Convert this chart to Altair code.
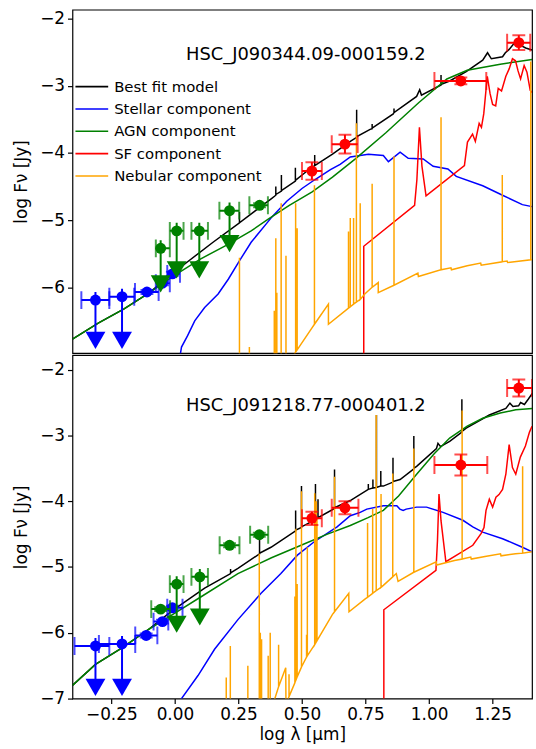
import altair as alt
import pandas as pd

# ---------------- axes ranges / ticks ----------------
X_DOMAIN = [-0.403, 1.405]
TOP_Y_DOMAIN = [-6.98, -1.87]
BOT_Y_DOMAIN = [-7.0, -1.78]
X_TICKS = [-0.25, 0.0, 0.25, 0.5, 0.75, 1.0, 1.25]
TOP_Y_TICKS = [-6, -5, -4, -3, -2]
BOT_Y_TICKS = [-7, -6, -5, -4, -3, -2]

SERIES = ["Best fit model", "Stellar component", "AGN component", "SF component", "Nebular component"]
COLORS = ["black", "blue", "green", "red", "orange"]

TOP_NAME = "HSC_J090344.09-000159.2"
BOT_NAME = "HSC_J091218.77-000401.2"
NAME_POS = [0.515, -2.55]

# ---------------- top panel model curves [x, y] ----------------
top_best = [
    [-0.403, -6.77], [-0.3, -6.53], [-0.2, -6.32], [-0.1, -6.08], [-0.03, -5.86],
    [0.05, -5.62], [0.15, -5.33], [0.254, -5.04], [0.254, -4.88], [0.254, -5.04],
    [0.38, -4.68], [0.397, -4.63], [0.397, -4.50], [0.397, -4.62],
    [0.419, -4.57], [0.419, -4.33], [0.419, -4.56], [0.474, -4.42], [0.474, -4.22], [0.474, -4.41],
    [0.52, -4.27], [0.55, -4.19], [0.55, -4.03], [0.55, -4.19], [0.62, -4.02],
    [0.69, -3.83], [0.715, -3.77], [0.715, -3.36], [0.715, -3.76], [0.768, -3.65],
    [0.776, -3.64], [0.776, -3.57], [0.776, -3.63], [0.859, -3.42], [0.862, -3.40], [0.862, -3.34], [0.862, -3.40],
    [0.951, -3.16], [0.963, -3.06], [0.97, -3.14], [1.047, -2.99], [1.047, -2.84], [1.047, -2.98],
    [1.081, -2.93], [1.146, -2.79], [1.211, -2.62], [1.23, -2.51], [1.245, -2.60],
    [1.289, -2.57], [1.30, -2.51], [1.315, -2.46], [1.341, -2.34], [1.36, -2.40],
    [1.38, -2.44], [1.405, -2.47],
]
top_stellar = [
    [0.019, -7.05], [0.026, -6.89], [0.05, -6.72], [0.078, -6.50], [0.117, -6.30],
    [0.17, -6.10], [0.21, -5.88], [0.255, -5.60], [0.30, -5.33], [0.365, -5.03],
    [0.378, -4.97], [0.44, -4.72], [0.5, -4.53], [0.55, -4.40], [0.612, -4.25],
    [0.65, -4.17], [0.69, -4.06], [0.761, -4.02], [0.82, -4.04], [0.84, -4.13],
    [0.886, -3.99], [0.918, -4.08], [0.977, -4.09], [1.016, -4.20], [1.074, -4.24],
    [1.107, -4.35], [1.211, -4.49], [1.289, -4.63], [1.367, -4.77], [1.405, -4.80],
]
top_agn = [
    [-0.403, -6.77], [-0.3, -6.53], [-0.2, -6.32], [-0.1, -6.08], [0.0, -5.82],
    [0.1, -5.58], [0.2, -5.38], [0.3, -5.16], [0.37, -4.98], [0.45, -4.78],
    [0.54, -4.58], [0.62, -4.36], [0.71, -4.09], [0.83, -3.70], [0.96, -3.25],
    [1.07, -2.90], [1.15, -2.77], [1.28, -2.68], [1.405, -2.61],
]
top_sf = [
    [0.743, -7.3], [0.743, -5.39], [0.943, -4.78], [0.952, -4.40], [0.962, -3.62],
    [0.972, -4.20], [0.988, -4.64], [1.139, -4.19], [1.151, -3.84], [1.171, -3.72],
    [1.182, -3.83], [1.197, -3.56], [1.206, -3.62], [1.215, -3.42], [1.229, -2.86],
    [1.24, -3.12], [1.25, -3.28], [1.262, -3.30], [1.272, -3.04], [1.285, -3.08],
    [1.302, -2.86], [1.315, -2.75], [1.328, -2.60], [1.34, -2.63], [1.35, -2.78],
    [1.36, -2.90], [1.374, -2.70], [1.385, -2.80], [1.398, -3.07], [1.405, -3.10],
]
top_nebular = [
    [0.24, -7.3], [0.254, -7.3], [0.254, -5.56], [0.254, -7.3],
    [0.293, -7.3], [0.293, -6.89], [0.293, -7.3],
    [0.391, -7.3], [0.391, -6.35], [0.391, -7.3],
    [0.397, -7.3], [0.397, -5.27], [0.397, -7.3],
    [0.401, -7.3], [0.401, -6.08], [0.401, -7.3],
    [0.418, -7.3], [0.418, -4.75], [0.418, -7.3],
    [0.437, -7.3], [0.437, -5.53], [0.437, -7.3],
    [0.462, -7.05], [0.474, -6.97],
    [0.475, -6.96], [0.475, -4.75], [0.475, -6.96],
    [0.481, -6.93], [0.481, -5.12], [0.481, -6.93],
    [0.54, -6.60], [0.549, -6.55], [0.549, -4.48], [0.549, -6.55],
    [0.604, -6.25], [0.604, -6.55], [0.683, -6.31], [0.683, -5.17], [0.683, -6.31],
    [0.69, -6.29], [0.69, -4.97], [0.69, -6.29],
    [0.703, -6.25], [0.703, -4.97], [0.703, -6.25],
    [0.714, -6.22], [0.714, -3.56], [0.714, -6.22],
    [0.729, -6.18], [0.729, -4.75], [0.729, -6.18],
    [0.747, -6.10], [0.776, -6.00], [0.776, -4.46], [0.776, -6.00],
    [0.8, -5.93], [0.8, -6.08], [0.862, -5.97], [0.862, -4.05], [0.862, -5.97],
    [0.956, -5.79], [0.958, -5.84], [1.047, -5.74], [1.047, -3.47], [1.047, -5.74],
    [1.086, -5.71], [1.088, -5.74], [1.15, -5.68], [1.203, -5.64], [1.205, -5.67],
    [1.288, -5.62], [1.288, -4.33], [1.288, -5.62], [1.307, -5.61], [1.309, -5.63],
    [1.40, -5.59], [1.40, -2.64], [1.40, -5.59], [1.405, -5.59],
]

# ---------------- bottom panel model curves [x, y] ----------------
bot_best = [
    [-0.403, -6.80], [-0.3125, -6.48], [-0.208, -6.23], [-0.104, -5.95], [-0.013, -5.67],
    [0.117, -5.32], [0.219, -5.10], [0.219, -5.03], [0.219, -5.09], [0.248, -5.02],
    [0.333, -4.80], [0.333, -4.57], [0.333, -4.79], [0.378, -4.70],
    [0.475, -4.45], [0.475, -4.14], [0.475, -4.44], [0.498, -4.40], [0.498, -3.77], [0.498, -4.39],
    [0.553, -4.28], [0.553, -3.74], [0.553, -4.27], [0.563, -4.26], [0.563, -3.97], [0.563, -4.25],
    [0.628, -4.11], [0.628, -3.52], [0.628, -4.10], [0.69, -3.99],
    [0.761, -3.82], [0.761, -3.74], [0.761, -3.82], [0.779, -3.80], [0.779, -3.67], [0.779, -3.80],
    [0.793, -3.79], [0.793, -2.69], [0.793, -3.79], [0.81, -3.77], [0.81, -3.54], [0.81, -3.77],
    [0.82, -3.77], [0.858, -3.71], [0.858, -3.34], [0.858, -3.70], [0.886, -3.67],
    [0.94, -3.51], [0.94, -3.01], [0.94, -3.50], [0.951, -3.47], [1.029, -3.20],
    [1.035, -3.12], [1.045, -3.17], [1.081, -3.09], [1.129, -2.95], [1.129, -2.45],
    [1.129, -2.94], [1.146, -2.89], [1.237, -2.69], [1.302, -2.59], [1.318, -2.51],
    [1.33, -2.56], [1.352, -2.55], [1.36, -2.50], [1.375, -2.53], [1.39, -2.45], [1.406, -2.36],
]
bot_stellar = [
    [0.02, -7.05], [0.026, -7.0], [0.091, -6.65], [0.156, -6.25], [0.248, -5.80],
    [0.339, -5.40], [0.417, -5.10], [0.482, -4.82], [0.547, -4.62], [0.638, -4.39],
    [0.69, -4.22], [0.729, -4.17], [0.755, -4.12], [0.82, -4.07], [0.873, -4.07],
    [0.885, -4.12], [0.898, -4.14], [0.91, -4.12], [0.951, -4.09], [0.99, -4.09],
    [1.055, -4.17], [1.133, -4.29], [1.172, -4.39], [1.211, -4.47], [1.289, -4.57],
    [1.367, -4.70], [1.406, -4.77],
]
bot_agn = [
    [-0.403, -6.80], [-0.3125, -6.48], [-0.208, -6.23], [-0.104, -5.95], [0.0, -5.70],
    [0.1, -5.46], [0.248, -5.10], [0.38, -4.86], [0.508, -4.65], [0.6, -4.50],
    [0.69, -4.37], [0.76, -4.25], [0.82, -4.14], [0.88, -3.92], [0.951, -3.59],
    [1.02, -3.28], [1.081, -3.04], [1.15, -2.86], [1.211, -2.74], [1.28, -2.66],
    [1.341, -2.61], [1.406, -2.59],
]
bot_sf = [
    [0.822, -7.3], [0.822, -5.65], [1.027, -5.05], [1.033, -4.60], [1.039, -3.89],
    [1.047, -4.30], [1.066, -4.92], [1.172, -4.67], [1.205, -4.49], [1.216, -4.40],
    [1.224, -4.14], [1.237, -3.97], [1.25, -4.09], [1.263, -3.94], [1.275, -3.90],
    [1.289, -3.82], [1.302, -3.59], [1.315, -3.14], [1.328, -3.49], [1.341, -3.59],
    [1.359, -3.33], [1.379, -3.16], [1.395, -2.95], [1.405, -2.86],
]
bot_nebular = [
    [0.19, -7.3], [0.202, -7.3], [0.202, -6.68], [0.202, -7.3],
    [0.218, -7.3], [0.218, -6.20], [0.218, -7.3],
    [0.287, -7.3], [0.287, -6.50], [0.287, -7.3],
    [0.332, -7.3], [0.332, -4.80], [0.332, -7.3],
    [0.336, -7.3], [0.336, -6.00], [0.336, -7.3],
    [0.341, -7.3], [0.341, -6.10], [0.341, -7.3],
    [0.367, -7.3], [0.367, -6.35], [0.367, -7.3],
    [0.375, -7.3], [0.375, -6.00], [0.375, -7.3],
    [0.385, -7.1], [0.408, -6.82], [0.408, -6.18], [0.408, -6.82],
    [0.436, -6.53], [0.437, -7.1], [0.44, -7.05],
    [0.449, -6.97], [0.449, -6.63], [0.449, -6.97],
    [0.472, -6.76], [0.472, -5.45], [0.472, -6.76],
    [0.476, -6.72], [0.476, -4.42], [0.476, -6.72],
    [0.481, -6.67], [0.481, -5.26], [0.481, -6.67],
    [0.498, -6.52], [0.498, -3.85], [0.498, -6.52],
    [0.518, -6.37], [0.518, -6.03], [0.518, -6.37],
    [0.521, -6.35], [0.521, -4.70], [0.521, -6.35],
    [0.55, -6.18], [0.55, -3.88], [0.55, -6.18],
    [0.556, -6.14], [0.556, -4.00], [0.556, -6.14],
    [0.559, -6.12], [0.559, -4.27], [0.559, -6.12],
    [0.565, -6.08], [0.62, -5.72], [0.628, -5.68], [0.628, -3.63], [0.628, -5.68],
    [0.684, -5.40], [0.685, -5.68], [0.75, -5.48],
    [0.758, -5.46], [0.758, -4.33], [0.758, -5.46],
    [0.778, -5.40], [0.778, -4.12], [0.778, -5.40],
    [0.792, -5.36], [0.792, -2.69], [0.792, -5.36],
    [0.811, -5.31], [0.811, -3.89], [0.811, -5.31],
    [0.82, -5.28], [0.857, -5.15], [0.857, -3.58], [0.857, -5.15],
    [0.871, -5.10], [0.878, -5.22], [0.94, -5.08], [0.94, -3.20], [0.94, -5.08],
    [1.028, -4.92], [1.03, -4.97], [1.10, -4.90], [1.13, -4.88], [1.13, -2.62], [1.13, -4.88],
    [1.164, -4.85], [1.166, -4.88], [1.22, -4.84], [1.281, -4.80], [1.283, -4.83],
    [1.34, -4.80], [1.368, -4.79], [1.368, -3.47], [1.368, -4.79], [1.404, -4.77],
]

# ---------------- photometry ----------------
# top panel
top_blue_x = [-0.3125, -0.208, -0.11, -0.049, -0.01]
top_blue_y = [-6.19, -6.14, -6.07, -5.94, -5.80]
top_blue_xlo = [-0.368, -0.258, -0.157, -0.075, -0.03]
top_blue_xhi = [-0.258, -0.16, -0.064, -0.02, 0.02]
top_blue_yerr = [0.0, 0.0, 0.03, 0.03, 0.03]
top_blue_lim = [-6.79, -6.79, None, None, None]

top_green_x = [-0.056, 0.007, 0.096, 0.215, 0.333]
top_green_y = [-5.42, -5.16, -5.16, -4.86, -4.78]
top_green_xlo = [-0.075, -0.02, 0.065, 0.175, 0.293]
top_green_xhi = [-0.02, 0.034, 0.13, 0.253, 0.366]
top_green_yerr = [0.0, 0.0, 0.0, 0.0, 0.03]
top_green_lim = [-5.95, -5.74, -5.74, -5.35, None]

top_red_x = [0.539, 0.669, 1.125, 1.353]
top_red_y = [-4.27, -3.87, -2.93, -2.36]
top_red_xlo = [0.5, 0.617, 1.021, 1.307]
top_red_xhi = [0.578, 0.719, 1.225, 1.398]
top_red_yerr = [0.13, 0.14, 0.05, 0.11]
top_red_lim = [None, None, None, None]

# bottom panel
bot_blue_x = [-0.3125, -0.208, -0.113, -0.049, -0.01]
bot_blue_y = [-6.20, -6.17, -6.04, -5.83, -5.62]
bot_blue_xlo = [-0.395, -0.299, -0.156, -0.084, -0.03]
bot_blue_xhi = [-0.258, -0.156, -0.069, -0.026, 0.03]
bot_blue_yerr = [0.0, 0.0, 0.03, 0.03, 0.03]
bot_blue_lim = [-6.83, -6.83, None, None, None]

bot_green_x = [-0.056, 0.007, 0.098, 0.215, 0.332]
bot_green_y = [-5.64, -5.26, -5.15, -4.67, -4.51]
bot_green_xlo = [-0.093, -0.02, 0.065, 0.176, 0.296]
bot_green_xhi = [-0.019, 0.034, 0.13, 0.254, 0.367]
bot_green_yerr = [0.03, 0.0, 0.0, 0.03, 0.03]
bot_green_lim = [None, -5.87, -5.76, None, None]

bot_red_x = [0.539, 0.669, 1.125, 1.353]
bot_red_y = [-4.26, -4.10, -3.45, -2.28]
bot_red_xlo = [0.5, 0.617, 1.021, 1.307]
bot_red_xhi = [0.578, 0.722, 1.229, 1.405]
bot_red_yerr = [0.10, 0.10, 0.16, 0.13]
bot_red_lim = [None, None, None, None]

# ---------------- styling ----------------
FONT = "DejaVu Sans"
W, H = 463, 346


def curve_df(pts, name):
    return pd.DataFrame({
        "x": [p[0] for p in pts],
        "y": [p[1] for p in pts],
        "i": list(range(len(pts))),
        "series": [name] * len(pts),
    })


def photometry_layers(xs, ys, xlo, xhi, yerr, lim, color, xsc, ysc):
    n = len(xs)
    up_top = [ys[k] + 0.12 for k in range(n)]
    pts = pd.DataFrame({"x": xs, "y": ys, "xlo": xlo, "xhi": xhi})
    caps_x = pd.DataFrame({"x": list(xlo) + list(xhi), "y": list(ys) + list(ys)})
    ve = [k for k in range(n) if yerr[k] > 0]
    verr = pd.DataFrame({"x": [xs[k] for k in ve],
                         "ylo": [ys[k] - yerr[k] for k in ve],
                         "yhi": [ys[k] + yerr[k] for k in ve]})
    caps_y = pd.DataFrame({"x": [xs[k] for k in ve] * 2,
                           "y": [ys[k] - yerr[k] for k in ve] + [ys[k] + yerr[k] for k in ve]})
    li = [k for k in range(n) if lim[k] is not None]
    lims = pd.DataFrame({"x": [xs[k] for k in li],
                         "ytop": [up_top[k] for k in li],
                         "ylim": [lim[k] for k in li]})
    X = lambda f: alt.X(f"{f}:Q", scale=xsc)
    Y = lambda f: alt.Y(f"{f}:Q", scale=ysc)
    layers = [
        alt.Chart(pts).mark_rule(color=color, strokeWidth=2, clip=True).encode(
            x=X("xlo"), x2="xhi:Q", y=Y("y")),
        alt.Chart(caps_x).mark_tick(color=color, orient="vertical", size=18, thickness=2, clip=True).encode(
            x=X("x"), y=Y("y")),
    ]
    if len(ve):
        layers += [
            alt.Chart(verr).mark_rule(color=color, strokeWidth=2, clip=True).encode(
                x=X("x"), y=Y("ylo"), y2="yhi:Q"),
            alt.Chart(caps_y).mark_tick(color=color, orient="horizontal", size=13, thickness=2, clip=True).encode(
                x=X("x"), y=Y("y")),
        ]
    if len(li):
        layers += [
            alt.Chart(lims).mark_rule(color=color, strokeWidth=2, clip=True).encode(
                x=X("x"), y=Y("ylim"), y2="ytop:Q"),
            alt.Chart(lims).mark_point(shape="triangle-down", filled=True, opacity=1, color=color,
                                       size=400, clip=True).encode(x=X("x"), y=Y("ylim")),
        ]
    layers.append(
        alt.Chart(pts).mark_point(shape="circle", filled=True, opacity=1, color=color,
                                  size=121, clip=True).encode(x=X("x"), y=Y("y"))
    )
    return layers


def panel(curves, phot, name, ydom, yticks, bottom, legend):
    xsc = alt.Scale(domain=X_DOMAIN, nice=False, zero=False)
    ysc = alt.Scale(domain=ydom, nice=False, zero=False)
    if bottom:
        xax = alt.Axis(values=X_TICKS, format=".2f", title="log λ [μm]", grid=False,
                       tickSize=5, labelPadding=3, titlePadding=4, domain=False)
    else:
        xax = alt.Axis(labels=False, ticks=False, title=None, grid=False, domain=False)
    yax = alt.Axis(values=yticks, format="d", title="log Fν [Jy]", grid=False,
                   tickSize=5, labelPadding=3, titlePadding=9, domain=False)
    leg = None
    if legend:
        leg = alt.Legend(title=None, orient="none", legendX=10, legendY=68,
                         symbolType="M-2,0H2", symbolSize=272, symbolStrokeWidth=1.6,
                         labelFontSize=15, labelFont=FONT, labelColor="black",
                         labelOffset=13, rowPadding=4.5, padding=0)
    color = alt.Color("series:N", scale=alt.Scale(domain=SERIES, range=COLORS), legend=leg)

    layers = []
    for k, pts in enumerate(curves):
        df = curve_df(pts, SERIES[k])
        enc = dict(x=alt.X("x:Q", scale=xsc, axis=xax), y=alt.Y("y:Q", scale=ysc, axis=yax),
                   color=color, order="i:Q")
        layers.append(alt.Chart(df).mark_line(strokeWidth=1.5, clip=True).encode(**enc))
    for group in phot:
        layers += photometry_layers(*group, xsc, ysc)
    txt = pd.DataFrame({"x": [NAME_POS[0]], "y": [NAME_POS[1]], "t": [name]})
    layers.append(alt.Chart(txt).mark_text(font=FONT, fontSize=18, color="black",
                                           baseline="middle", align="center").encode(
        x=alt.X("x:Q", scale=xsc), y=alt.Y("y:Q", scale=ysc), text="t:N"))
    return alt.layer(*layers).properties(width=W, height=H)


top = panel(
    [top_best, top_stellar, top_agn, top_sf, top_nebular],
    [
        (top_blue_x, top_blue_y, top_blue_xlo, top_blue_xhi, top_blue_yerr, top_blue_lim, "blue"),
        (top_green_x, top_green_y, top_green_xlo, top_green_xhi, top_green_yerr, top_green_lim, "green"),
        (top_red_x, top_red_y, top_red_xlo, top_red_xhi, top_red_yerr, top_red_lim, "red"),
    ],
    TOP_NAME, TOP_Y_DOMAIN, TOP_Y_TICKS, bottom=False, legend=True,
)
bot = panel(
    [bot_best, bot_stellar, bot_agn, bot_sf, bot_nebular],
    [
        (bot_blue_x, bot_blue_y, bot_blue_xlo, bot_blue_xhi, bot_blue_yerr, bot_blue_lim, "blue"),
        (bot_green_x, bot_green_y, bot_green_xlo, bot_green_xhi, bot_green_yerr, bot_green_lim, "green"),
        (bot_red_x, bot_red_y, bot_red_xlo, bot_red_xhi, bot_red_yerr, bot_red_lim, "red"),
    ],
    BOT_NAME, BOT_Y_DOMAIN, BOT_Y_TICKS, bottom=True, legend=False,
)

chart = alt.vconcat(top, bot, spacing=0).resolve_scale(
    x="independent", y="independent", color="independent"
).resolve_legend(color="independent").properties(
    padding={"left": 12, "top": 6, "right": 3, "bottom": 2},
    background="white",
).configure_view(stroke="black", strokeWidth=1.2).configure_axis(
    labelFont=FONT, titleFont=FONT, labelFontSize=17, titleFontSize=17,
    titleFontWeight="normal", labelColor="black", titleColor="black", tickColor="black",
    tickWidth=1.2,
)

chart.save("out.html", embed_options={"renderer": "svg", "actions": False})
